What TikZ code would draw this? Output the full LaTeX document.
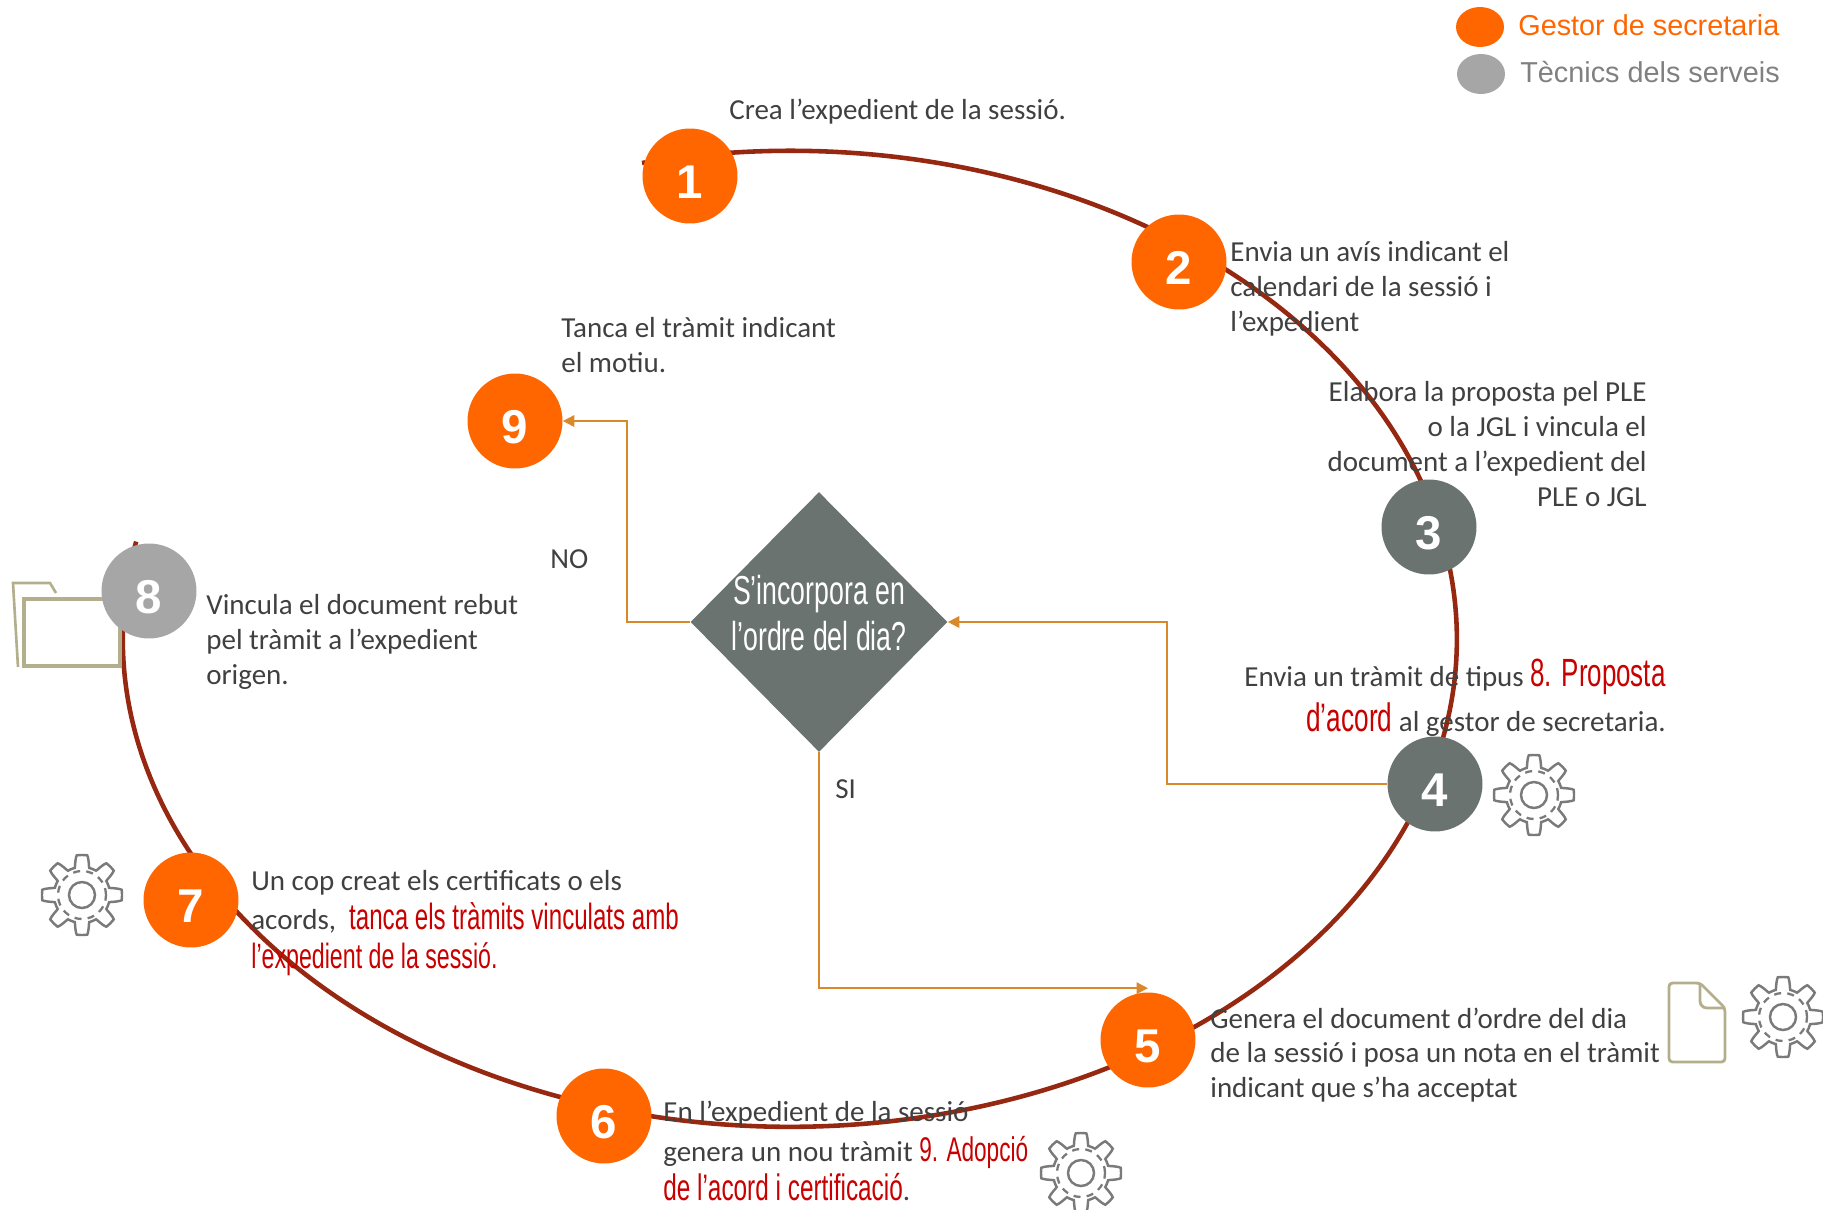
\documentclass[tikz,border=0pt]{standalone}
\usepackage{fontspec}
\usepackage{tikz}
\usetikzlibrary{shapes.geometric,arrows.meta}
\setmainfont{Carlito}
\newfontfamily\legendfont{Liberation Sans}
\newfontfamily\agencyfont[FakeStretch=0.66]{Liberation Sans}
\definecolor{ringred}{HTML}{962710}
\definecolor{flowline}{HTML}{D9882A}
\definecolor{orangestep}{HTML}{FF6600}
\definecolor{slatestep}{HTML}{6A736F}
\definecolor{greystep}{HTML}{A6A6A6}
\definecolor{bodygrey}{HTML}{404040}
\definecolor{alertred}{HTML}{C80000}
\definecolor{icontan}{HTML}{B3AF8C}
\definecolor{gearline}{HTML}{7A7A7A}
\newcommand{\hot}[2]{{\agencyfont\fontsize{#1}{20}\selectfont\color{alertred}#2}}
\tikzset{
  stepnum/.style={circle,minimum size=1.9cm,inner sep=0pt,text=white,text height=26pt,text depth=0pt,font=\legendfont\bfseries\fontsize{27}{30}\selectfont},
  bodytext/.style={inner sep=0pt,text=bodygrey,font=\fontsize{16.5}{19.8}\selectfont},
  legendtext/.style={inner sep=0pt,anchor=west,font=\legendfont\fontsize{16.4}{18}\selectfont},
  legenddot/.style={ellipse,minimum width=0.96cm,minimum height=0.8cm,inner sep=0pt},
  flow/.style={draw=flowline,line width=1pt,-{Triangle[length=6.5pt,width=6.5pt]}},
  gearicon/.pic={
    \draw [gearline,line width=1.4pt] plot [domain=0:360,samples=241,smooth] (\x:{34+6*max(-1,min(1,2.2*cos(8*\x)))}) -- cycle;
    \draw [gearline,line width=1.4pt] (0,0) circle (13);
    \draw [gearline,line width=1.3pt,dash pattern=on 4pt off 3.5pt] (0,0) circle (24);
  }
}
\begin{document}
\begin{tikzpicture}[x=0.02cm,y=0.02cm]
\useasboundingbox (0,0) rectangle (1823,-1210);
% ring behind the steps
\coordinate (ringstart) at (642,-163);
\draw [ringred,line width=2.6pt] (ringstart) arc (102.8:-191.5:667 and 488);
% icons
\draw [icontan,line width=1.5pt] (18,-667) -- (13,-583) -- (50,-583) -- (56,-593);
\draw [icontan,line width=1.8pt] (24,-599) rectangle (120,-666);
\draw [icontan,line width=1.6pt,rounded corners=2pt] (1669,-983) -- (1700,-983) -- (1725,-1008) -- (1725,-1062) -- (1669,-1062) -- cycle;
\draw [icontan,line width=1.6pt,rounded corners=4pt] (1700,-983) -- (1700,-1008) -- (1725,-1008);
\pic at (1534,-795) {gearicon};
\pic at (1783,-1017) {gearicon};
\pic at (82,-895) {gearicon};
\pic at (1081,-1173) {gearicon};
% steps
\node [stepnum,fill=orangestep] (n1) at (690,-176) {1};
\node [stepnum,fill=orangestep] (n2) at (1179,-262) {2};
\node [stepnum,fill=slatestep] (n3) at (1429,-527) {3};
\node [stepnum,fill=slatestep] (n4) at (1435,-784) {4};
\node [stepnum,fill=orangestep] (n5) at (1148,-1040) {5};
\node [stepnum,fill=orangestep] (n6) at (604,-1116) {6};
\node [stepnum,fill=orangestep] (n7) at (191,-900) {7};
\node [stepnum,fill=greystep] (n8) at (149,-591) {8};
\node [stepnum,fill=orangestep] (n9) at (515,-421) {9};
% decision
\node [diamond,fill=slatestep,minimum width=5.14cm,minimum height=5.2cm,inner sep=0pt] (dec) at (819,-622) {};
\node [inner sep=0pt,align=center,text=white,font=\agencyfont\fontsize{23}{26}\selectfont] (dectext) at (819,-613) {S’incorpora en\\l’ordre del dia?};
% flow
\coordinate (bendfour) at (1167,-784);
\coordinate (bendnine) at (627,-622);
\draw [flow] (n4.west) -- (bendfour) |- (dec.east);
\draw [flow] (dec.west) -- (bendnine) |- (n9.east);
\draw [flow] (dec.south) |- ([yshift=0.08cm]n5.north);
\node [bodytext,anchor=west] (lblno) at (550,-559) {NO};
\node [bodytext,anchor=west] (lblsi) at (835,-789) {SI};
% step texts
\node [bodytext,anchor=west] (txt1) at (729,-112) {Crea l’expedient de la sessió.};
\node [bodytext,anchor=west,align=left] (txt2) at (1230,-289) {Envia un avís indicant el\\calendari de la sessió i\\l’expedient};
\node [bodytext,anchor=east,align=right] (txt3) at (1647,-444) {Elabora la proposta pel PLE\\o la JGL i vincula el\\document a l’expedient del\\PLE o JGL};
\node [bodytext,anchor=east,align=right,font=\fontsize{16.5}{25.5}\selectfont] (txt4) at (1666,-698) {Envia un tràmit de tipus \hot{22.4}{8. Proposta}\\\hot{22.6}{d’acord} al gestor de secretaria.};
\node [bodytext,anchor=west,align=left] (txt5) at (1210,-1055) {Genera el document d’ordre del dia\\de la sessió i posa un nota en el tràmit\\indicant que s’ha acceptat};
\node [bodytext,anchor=west,align=left,font=\fontsize{16.5}{22.4}\selectfont] (txt6) at (663,-1151) {En l’expedient de la sessió\\genera un nou tràmit \hot{19.5}{9. Adopció}\\\hot{21}{de l’acord i certificació}.};
\node [bodytext,anchor=west,align=left,font=\fontsize{16.5}{22.4}\selectfont] (txt7) at (251,-923) {Un cop creat els certificats o els\\acords,~ \hot{20.8}{tanca els tràmits vinculats amb}\\\hot{20}{l’expedient de la sessió.}};
\node [bodytext,anchor=west,align=left] (txt8) at (206,-642) {Vincula el document rebut\\pel tràmit a l’expedient\\origen.};
\node [bodytext,anchor=west,align=left] (txt9) at (561,-345) {Tanca el tràmit indicant\\el motiu.};
% legend
\node [legenddot,fill=orangestep] (dotsecretaria) at (1480,-27) {};
\node [legenddot,fill=greystep] (dotserveis) at (1481,-74) {};
\node [legendtext,text=orangestep] (lblsecretaria) at (1518,-25) {Gestor de secretaria};
\node [legendtext,text=gray] (lblserveis) at (1520,-72) {Tècnics dels serveis};
\end{tikzpicture}
\end{document}
